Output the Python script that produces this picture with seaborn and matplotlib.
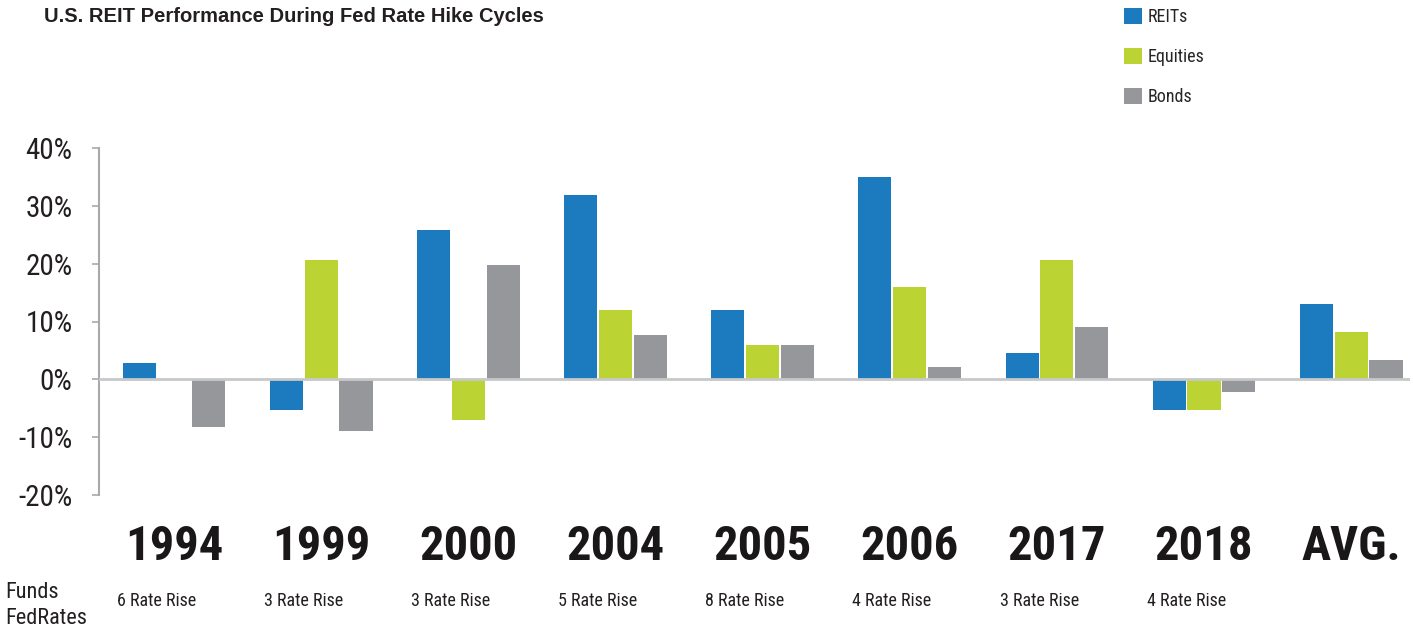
import numpy as np
import pandas as pd
import seaborn as sns
import matplotlib.pyplot as plt
import matplotlib.transforms as mtransforms
from matplotlib.patches import Patch
from matplotlib import font_manager

# data
years = ["1994", "1999", "2000", "2004", "2005", "2006", "2017", "2018", "AVG."]
rate_rises = ["6 Rate Rise", "3 Rate Rise", "3 Rate Rise", "5 Rate Rise",
              "8 Rate Rise", "4 Rate Rise", "3 Rate Rise", "4 Rate Rise", ""]
reits = [2.9, -5.3, 25.9, 31.9, 12.0, 34.9, 4.6, -5.3, 13.1]
equities = [0.0, 20.6, -7.0, 12.0, 6.0, 16.0, 20.6, -5.3, 8.2]
bonds = [-8.2, -9.0, 19.7, 7.7, 6.0, 2.1, 9.1, -2.2, 3.4]
series = ["REITs", "Equities", "Bonds"]
colors = ["#1c7abf", "#bcd433", "#96979a"]
yticks = [-20, -10, 0, 10, 20, 30, 40]

sns.set_theme(style="white")

# pick a condensed face if one is installed
installed = {f.name for f in font_manager.fontManager.ttflist}
narrow_name = "Liberation Sans"
for cand in ["Liberation Sans Narrow", "Roboto Condensed", "DejaVu Sans Condensed",
             "Open Sans Condensed"]:
    if cand in installed:
        narrow_name = cand
        break
narrow = [narrow_name, "DejaVu Sans"]
plt.rcParams["font.family"] = narrow
is_narrow = narrow_name != "Liberation Sans"

df = pd.DataFrame({"Year": years * 3,
                   "Return": reits + equities + bonds,
                   "Type": sum([[s] * len(years) for s in series], [])})

fig = plt.figure(figsize=(14.13, 6.29), dpi=100)
ax = fig.add_axes([99 / 1413, 1 - 495 / 629, 1311 / 1413, 347 / 629])

sns.barplot(data=df, x="Year", y="Return", hue="Type", order=years,
            hue_order=series, palette=colors, width=0.71, gap=0.05,
            errorbar=None, linewidth=0, saturation=1, ax=ax, legend=False)

ax.set_xlim(-0.51, 8.40)
ax.set_ylim(-20, 40)
ax.set_yticks(yticks)
ax.set_yticklabels([f"{t}%" for t in yticks], fontsize=21 if is_narrow else 18,
                   color="#231f20")
ax.set_xlabel("")
ax.set_ylabel("")
ax.tick_params(axis="y", left=True, length=5, width=1.2, color="#a7a9ac", pad=14)
ax.tick_params(axis="x", length=0, pad=21)
ax.set_xticks(range(len(years)))
ax.set_xticklabels(years, fontsize=35 if is_narrow else 31, fontweight="heavy",
                   color="#1a1718")

for side in ["top", "right", "bottom"]:
    ax.spines[side].set_visible(False)
ax.spines["left"].set_color("#a7a9ac")
ax.spines["left"].set_linewidth(1.5)
ax.axhline(0, color="#c7c8ca", lw=2, zorder=5)

small = 13 if is_narrow else 12
# rate rise counts under each group
trans = mtransforms.blended_transform_factory(ax.transData, fig.transFigure)
for i, txt in enumerate(rate_rises):
    ax.text(i - 0.12, 1 - 601 / 629, txt, transform=trans, ha="center",
            va="center", fontsize=small, color="#231f20")
fig.text(5 / 1413, 1 - 593 / 629, "Funds", fontsize=small + 3, va="center", color="#231f20")
fig.text(5 / 1413, 1 - 618 / 629, "FedRates", fontsize=small + 3, va="center", color="#231f20")

fig.text(44 / 1413, 1 - 16 / 629, "U.S. REIT Performance During Fed Rate Hike Cycles",
         fontsize=14.5, fontweight="bold", va="center", color="#231f20",
         family=["Liberation Sans", "DejaVu Sans"])

handles = [Patch(facecolor=c, edgecolor="none") for c in colors]
fig.legend(handles, series, loc="upper left", bbox_to_anchor=(1124 / 1413, 1 - 8 / 629),
           frameon=False, fontsize=13 if is_narrow else 11.5, handlelength=1.0,
           handleheight=1.0, handletextpad=0.3, labelspacing=1.2, borderpad=0,
           borderaxespad=0)

plt.savefig("out.png", dpi=100)
